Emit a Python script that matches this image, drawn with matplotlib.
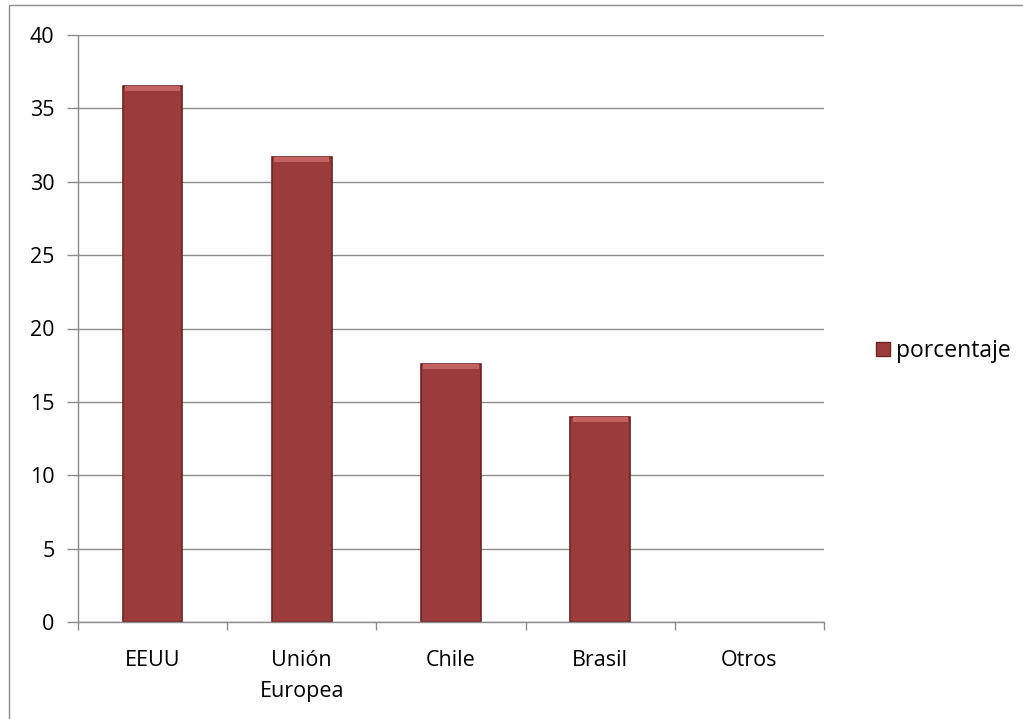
import matplotlib as mpl; mpl.use("Agg")
import matplotlib.pyplot as plt
from matplotlib.patches import Rectangle
from matplotlib.lines import Line2D
import numpy as np

categories = ["EEUU", "Unión\nEuropea", "Chile", "Brasil", "Otros"]
porcentaje = [36.5, 31.7, 17.6, 14.0, 0.0]
yticks = [0, 5, 10, 15, 20, 25, 30, 35, 40]
series_name = "porcentaje"

BAR = "#9b3b3b"
EDGE = "#6e2222"
GRID = "#8c8c8c"

mpl.rcParams.update({"font.family": ["Open Sans", "DejaVu Sans"], "font.size": 15.5})

fig = plt.figure(figsize=(10.23, 7.19), dpi=100)
fig.patches.append(Rectangle((9/1023, -0.1), 1.2, 1 - 5/719 + 0.1, transform=fig.transFigure,
                             fill=False, ec="#8c8c8c", lw=1.0))
ax = fig.add_axes([78/1023, 1 - 622/719, (824 - 78)/1023, (622 - 35)/719])

x = np.arange(len(categories))
vals = np.array(porcentaje)
shown = vals > 0
ax.bar(x[shown], vals[shown], width=0.4, color=BAR, edgecolor=EDGE, linewidth=1.2, zorder=3)
# light bevel on the top edge of each bar
for xi, v in zip(x[shown], vals[shown]):
    ax.bar(xi, 0.35, bottom=v - 0.35, width=0.37, color="#c46262", linewidth=0, zorder=4)

ax.set_xlim(-0.5, len(categories) - 0.5)
ax.set_ylim(0, 40)
ax.set_yticks(yticks)
ax.set_yticklabels([str(t) for t in yticks])
ax.yaxis.grid(True, color=GRID, lw=1.0, zorder=0)
ax.set_xticks(x)
ax.set_xticklabels(categories, linespacing=1.65, va="top")
ax.set_xticks(np.arange(len(categories) + 1) - 0.5, minor=True)
ax.tick_params(axis="x", which="major", length=0, pad=20)
ax.tick_params(axis="x", which="minor", length=6, color=GRID, width=1.0)
ax.tick_params(axis="y", length=8, color=GRID, width=1.0, pad=9)
for s in ["top", "right"]:
    ax.spines[s].set_visible(False)
for s in ["left", "bottom"]:
    ax.spines[s].set_color(GRID)
    ax.spines[s].set_linewidth(1.0)
    ax.spines[s].set_zorder(5)

handle = [Line2D([0], [0], marker="s", ls="", mfc=BAR, mec=EDGE, ms=9.5)]
fig.legend(handle, [series_name], loc="center left", bbox_to_anchor=(860/1023, 1 - 351/719),
           frameon=False, handletextpad=0.05, borderpad=0, handlelength=1.0, fontsize=16.5)

fig.savefig("out.png", dpi=100)
